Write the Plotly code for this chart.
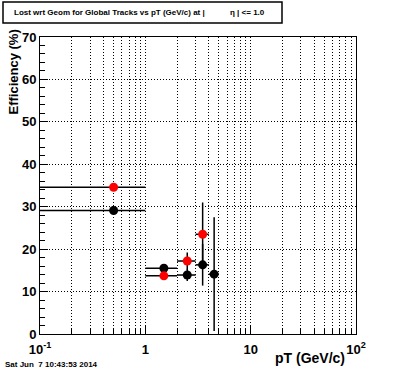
import plotly.graph_objects as go

# ---- data ----
pt_centers = [0.5, 1.5, 2.5, 3.5, 4.5]
pt_low = [0.0, 1.0, 2.0, 3.0, 4.0]
pt_high = [1.0, 2.0, 3.0, 4.0, 5.0]

black_eff = [29.1, 15.5, 13.9, 16.3, 14.1]
black_err_up = [0.0, 0.0, 1.4, 4.9, 13.4]
black_err_dn = [0.0, 0.0, 1.4, 4.9, 13.4]

red_eff = [34.6, 13.7, 17.2, 23.5, None]
red_err_up = [0.0, 0.0, 2.0, 7.5, 0.0]
red_err_dn = [0.0, 0.0, 2.0, 7.5, 0.0]

x_tickvals = [0.1, 1, 10, 100]
x_ticktext = ["10<sup>-1</sup>", "1", "10", "10<sup>2</sup>"]
x_minor = [m * d for d in (0.1, 1, 10) for m in range(2, 10)]

xerr_plus = [h - c for h, c in zip(pt_high, pt_centers)]
xerr_minus = [c - l for c, l in zip(pt_centers, pt_low)]

FONT = "Liberation Sans"

fig = go.Figure()
for yv, eu, ed, col in [(black_eff, black_err_up, black_err_dn, "black"),
                        (red_eff, red_err_up, red_err_dn, "red")]:
    fig.add_trace(go.Scatter(
        x=pt_centers, y=yv, mode="markers",
        marker=dict(color=col, size=9, line=dict(width=0)),
        error_x=dict(type="data", symmetric=False, array=xerr_plus,
                     arrayminus=xerr_minus, color="black", thickness=1.5, width=0),
        error_y=dict(type="data", symmetric=False, array=eu, arrayminus=ed,
                     color="black", thickness=1.5, width=0),
        showlegend=False, cliponaxis=True,
    ))

gridkw = dict(gridcolor="black", gridwidth=1, griddash="1px,2px")

fig.update_layout(
    width=396, height=372,
    margin=dict(l=40, r=40, t=37, b=38),
    paper_bgcolor="white", plot_bgcolor="white",
    font=dict(family=FONT, color="black"),
    xaxis=dict(
        type="log", range=[-1, 2],
        tickmode="array", tickvals=x_tickvals, ticktext=x_ticktext,
        ticks="inside", ticklen=9, tickcolor="black", tickwidth=1,
        tickfont=dict(family=FONT, size=13, weight="bold"),
        ticklabelstandoff=3,
        showgrid=True, **gridkw,
        showline=True, linecolor="black", linewidth=1, mirror=True,
        zeroline=False,
        minor=dict(tickmode="array", tickvals=x_minor, ticks="inside",
                   ticklen=5, tickcolor="black", showgrid=True, **gridkw),
    ),
    yaxis=dict(
        range=[0, 70], tickmode="linear", tick0=0, dtick=10,
        ticks="inside", ticklen=8, tickcolor="black", tickwidth=1,
        tickfont=dict(family=FONT, size=13, weight="bold"),
        showgrid=True, **gridkw,
        showline=True, linecolor="black", linewidth=1, mirror=True,
        zeroline=False,
        minor=dict(dtick=2, ticks="inside", ticklen=5, tickcolor="black",
                   showgrid=False),
    ),
)

# title box
fig.add_shape(type="rect", xref="paper", yref="paper",
              x0=(3 - 40) / 316, x1=(282 - 40) / 316,
              y0=(334 - 23) / 297, y1=(334 - 2) / 297,
              line=dict(color="black", width=1.5), fillcolor="white", layer="above")
fig.add_annotation(text="Lost wrt Geom for Global Tracks vs pT (GeV/c) at |",
                   xref="paper", yref="paper", x=(12 - 40) / 316, y=(334 - 13) / 297,
                   xanchor="left", yanchor="middle", showarrow=False,
                   font=dict(family=FONT, size=8, weight="bold"))
fig.add_annotation(text="η | <= 1.0",
                   xref="paper", yref="paper", x=(228 - 40) / 316, y=(334 - 13) / 297,
                   xanchor="left", yanchor="middle", showarrow=False,
                   font=dict(family=FONT, size=8, weight="bold"))
# axis titles
fig.add_annotation(text="Efficiency (%)", textangle=-90,
                   xref="paper", yref="paper", x=(13 - 40) / 316, y=(334 - 28) / 297,
                   xanchor="center", yanchor="top", showarrow=False,
                   font=dict(family=FONT, size=13, weight="bold"))
fig.add_annotation(text="pT (GeV/c)",
                   xref="paper", yref="paper", x=(347 - 40) / 316, y=(334 - 358) / 297,
                   xanchor="right", yanchor="middle", showarrow=False,
                   font=dict(family=FONT, size=14, weight="bold"))
fig.add_annotation(text="Sat Jun\u00a0\u00a07 10:43:53 2014",
                   xref="paper", yref="paper", x=(3 - 40) / 316, y=(334 - 364) / 297,
                   xanchor="left", yanchor="middle", showarrow=False,
                   font=dict(family=FONT, size=8, weight="bold"))

fig.write_html("out.html", config={"displayModeBar": False},
               post_script="document.body.style.margin='0';document.body.style.padding='0';")
